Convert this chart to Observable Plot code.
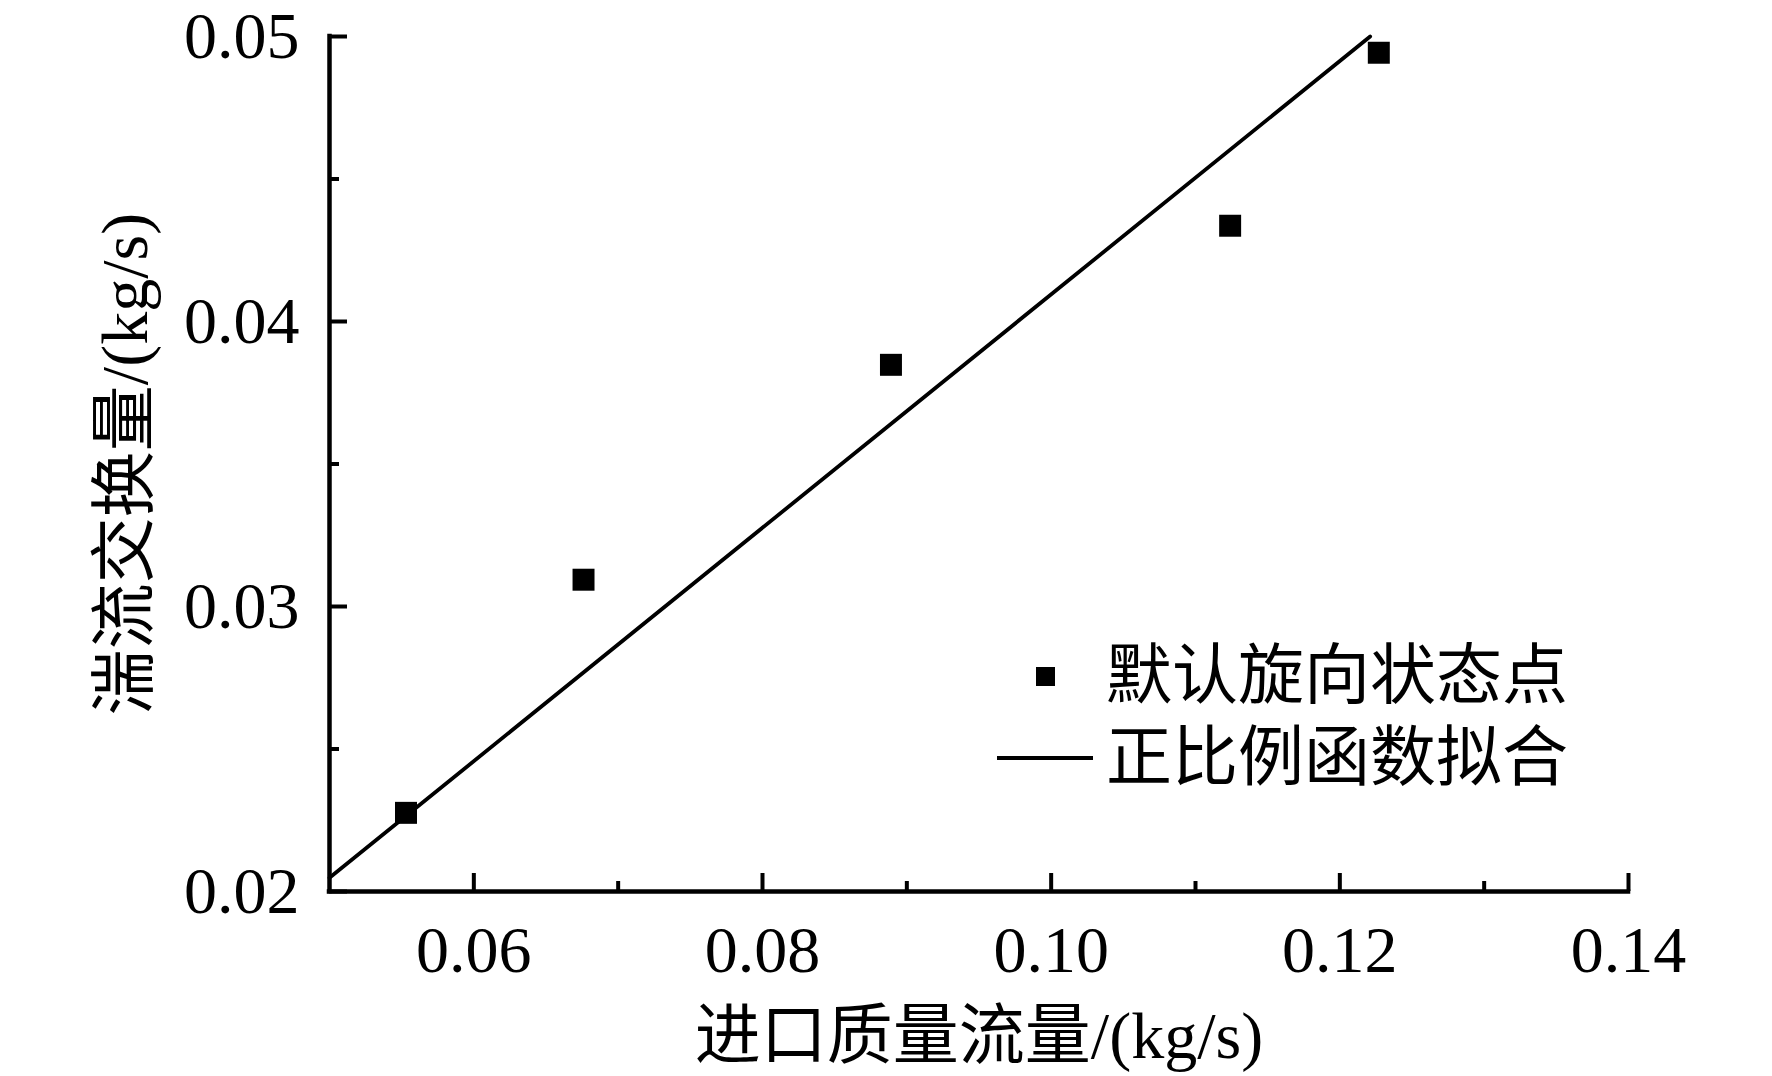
<!DOCTYPE html>
<html>
<head>
<meta charset="utf-8">
<script src="https://cdn.jsdelivr.net/npm/d3@7"></script>
<script src="https://cdn.jsdelivr.net/npm/@observablehq/plot@0.6"></script>
<style>
  html, body { margin: 0; padding: 0; background: #fff; }
  #wrap { position: relative; width: 1772px; height: 1076px; font-family: "Liberation Serif", "Noto Sans CJK SC", serif; }
  .lg { position: absolute; font-size: 66px; line-height: 66px; white-space: nowrap; color: #000; }
</style>
</head>
<body>
<div id="wrap"></div>
<script>
// Data
const massFlow = [0.0553, 0.0676, 0.0889, 0.1124, 0.1227];      // 进口质量流量 (kg/s)
const exchange = [0.02276, 0.03094, 0.03848, 0.04336, 0.04943]; // 湍流交换量 (kg/s)
const fitX = [0.05, 0.1221];
const fitY = [0.02048, 0.05];
const xMajor = [0.06, 0.08, 0.10, 0.12, 0.14];
const xMinor = [0.07, 0.09, 0.11, 0.13];
const yMajor = [0.02, 0.03, 0.04, 0.05];
const yMinor = [0.025, 0.035, 0.045];
const xLabel = "进口质量流量/(kg/s)";
const yLabel = "湍流交换量/(kg/s)";
const legendPoints = "默认旋向状态点";
const legendFit = "正比例函数拟合";

const points = massFlow.map((x, i) => ({x, y: exchange[i]}));
const fit = fitX.map((x, i) => ({x, y: fitY[i]}));
const fmt = d3.format(".2f");

const chart = Plot.plot({
  width: 1772,
  height: 1076,
  marginLeft: 329,
  marginRight: 144,
  marginTop: 36,
  marginBottom: 185,
  style: {fontFamily: "'Liberation Serif', 'Noto Sans CJK SC', serif", fontSize: "66px", background: "#fff", color: "#000"},
  x: {domain: [0.05, 0.14]},
  y: {domain: [0.02, 0.05]},
  marks: [
    // tick labels
    Plot.axisX({ticks: xMajor, tickSize: 0, tickPadding: 34, tickFormat: fmt, label: null, fontSize: 66}),
    Plot.axisY({ticks: yMajor, tickSize: 0, tickPadding: 30, tickFormat: fmt, label: null, fontSize: 66}),
    // inward ticks
    Plot.axisX({ticks: xMajor, tickSize: -18, tickFormat: () => "", label: null, strokeWidth: 4}),
    Plot.axisX({ticks: xMinor, tickSize: -10, tickFormat: () => "", label: null, strokeWidth: 4}),
    Plot.axisY({ticks: yMajor, tickSize: -18, tickFormat: () => "", label: null, strokeWidth: 4}),
    Plot.axisY({ticks: yMinor, tickSize: -10, tickFormat: () => "", label: null, strokeWidth: 4}),
    // axis lines
    Plot.ruleX([0.05], {strokeWidth: 4.5, strokeLinecap: "square"}),
    Plot.ruleY([0.02], {strokeWidth: 4.5, strokeLinecap: "square"}),
    // fit line
    Plot.line(fit, {x: "x", y: "y", stroke: "#000", strokeWidth: 3.8}),
    // data squares
    Plot.dot(points, {x: "x", y: "y", symbol: "square", r: 12.4, fill: "#000", stroke: "none"}),
    // axis titles
    Plot.text([xLabel], {text: d => d, frameAnchor: "bottom", dy: 145, lineAnchor: "middle", textAnchor: "middle", fontSize: 66}),
    Plot.text([yLabel], {text: d => d, frameAnchor: "left", dx: -204, rotate: -90, lineAnchor: "middle", textAnchor: "middle", fontSize: 66})
  ]
});

const wrap = document.getElementById("wrap");
wrap.appendChild(chart);

// legend
const sq = document.createElement("div");
sq.style.cssText = "position:absolute;left:1036px;top:667px;width:19px;height:19px;background:#000;";
wrap.appendChild(sq);
const ln = document.createElement("div");
ln.style.cssText = "position:absolute;left:997px;top:756px;width:96px;height:4px;background:#000;";
wrap.appendChild(ln);
const t1 = document.createElement("div");
t1.className = "lg"; t1.textContent = legendPoints;
t1.style.left = "1106px"; t1.style.top = "643px";
wrap.appendChild(t1);
const t2 = document.createElement("div");
t2.className = "lg"; t2.textContent = legendFit;
t2.style.left = "1106px"; t2.style.top = "725px";
wrap.appendChild(t2);
</script>
</body>
</html>
